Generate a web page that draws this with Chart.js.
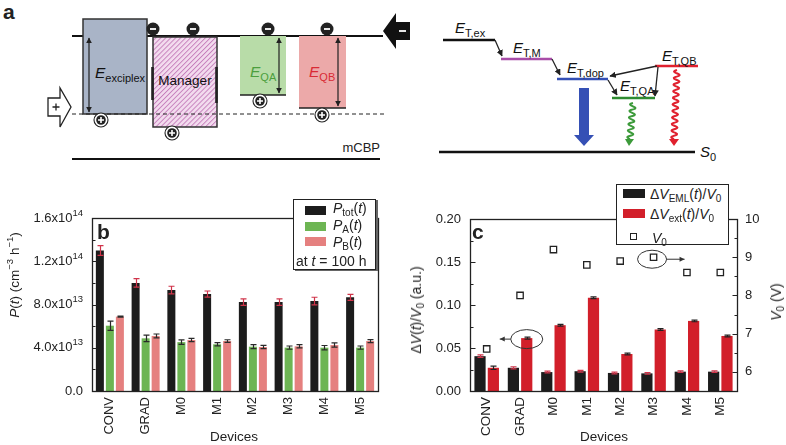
<!DOCTYPE html>
<html><head><meta charset="utf-8">
<script src="https://cdn.jsdelivr.net/npm/chart.js@4.4.0/dist/chart.umd.min.js"></script>
<style>
body{margin:0;width:786px;height:445px;overflow:hidden;background:#fff;position:relative;font-family:"Liberation Sans",Arial,sans-serif;color:#222}
.abs{position:absolute}
.t{position:absolute;white-space:nowrap;color:#222;font-size:14px;line-height:1}
.sb{font-size:10px;position:relative;top:3px}
.sp{font-size:9.5px;position:relative;top:-6px}
.rot{transform:translate(-50%,-50%) rotate(-90deg)}
</style></head><body>

<svg class="abs" style="left:0;top:0" width="786" height="180" font-family="Liberation Sans, Arial, sans-serif">
<defs>
 <pattern id="hatch" patternUnits="userSpaceOnUse" width="3.5" height="3.5" patternTransform="rotate(45)">
  <rect width="3.5" height="3.5" fill="#f3dcef"/>
  <line x1="0.5" y1="0" x2="0.5" y2="3.5" stroke="#c47bb9" stroke-width="0.9"/>
 </pattern>
 <marker id="ah" viewBox="0 0 10 10" refX="9" refY="5" markerWidth="5" markerHeight="5" orient="auto-start-reverse"><path d="M0,0 L10,5 L0,10 z" fill="#222"/></marker>
</defs>
<text x="3" y="19" font-weight="bold" font-size="21" fill="#222">a</text>
<line x1="72" y1="36" x2="383" y2="36" stroke="#111" stroke-width="2.2"/>
<line x1="72" y1="159" x2="380" y2="159" stroke="#111" stroke-width="2.2"/>
<text x="380" y="152" text-anchor="end" font-size="13" fill="#222">mCBP</text>
<!-- exciplex -->
<rect x="83" y="19" width="64" height="95" fill="#a9b4c7" stroke="#333" stroke-width="1.5"/>
<line x1="89" y1="38" x2="89" y2="112" stroke="#222" stroke-width="1.2" marker-start="url(#ah)" marker-end="url(#ah)"/>
<text x="95" y="78" font-size="15.5" fill="#111"><tspan font-style="italic">E</tspan><tspan font-size="11" dy="4">exciplex</tspan></text>
<!-- manager -->
<rect x="153" y="37" width="64" height="90" fill="url(#hatch)" stroke="#333" stroke-width="1.5"/>
<line x1="152.5" y1="67" x2="152.5" y2="100" stroke="#222" stroke-width="2.6"/>
<line x1="216.5" y1="67" x2="216.5" y2="103" stroke="#222" stroke-width="2.6"/>
<text x="185" y="85" text-anchor="middle" font-size="13.5" fill="#111">Manager</text>
<!-- QA -->
<rect x="240" y="36" width="46" height="59" fill="#b8dca8"/>
<line x1="240" y1="95" x2="286" y2="95" stroke="#222" stroke-width="1.5"/>
<line x1="279" y1="38" x2="279" y2="93" stroke="#222" stroke-width="1.2" marker-start="url(#ah)" marker-end="url(#ah)"/>
<text x="250" y="77" font-size="15.5" fill="#4c9f3e"><tspan font-style="italic">E</tspan><tspan font-size="11" dy="4">QA</tspan></text>
<!-- QB -->
<rect x="299" y="36" width="47" height="72" fill="#eca9a9"/>
<line x1="299" y1="108" x2="346" y2="108" stroke="#222" stroke-width="1.5"/>
<line x1="338" y1="38" x2="338" y2="106" stroke="#222" stroke-width="1.2" marker-start="url(#ah)" marker-end="url(#ah)"/>
<text x="309" y="77" font-size="15.5" fill="#d92b35"><tspan font-style="italic">E</tspan><tspan font-size="11" dy="4">QB</tspan></text>
<line x1="72" y1="114" x2="384" y2="114" stroke="#222" stroke-width="1" stroke-dasharray="4,3"/>
<!-- charges -->
<g fill="#222">
 <circle cx="153" cy="29" r="6.5"/><circle cx="193" cy="29" r="6.5"/><circle cx="268" cy="29" r="6.5"/><circle cx="327" cy="29" r="6.5"/>
</g>
<g stroke="#fff" stroke-width="1.8">
 <line x1="150" y1="29" x2="156" y2="29"/><line x1="190" y1="29" x2="196" y2="29"/><line x1="265" y1="29" x2="271" y2="29"/><line x1="324" y1="29" x2="330" y2="29"/>
</g>
<g>
 <circle cx="101" cy="120" r="7" fill="#fff" stroke="#222" stroke-width="1.1"/><circle cx="101" cy="120" r="4.8" fill="#222"/>
 <path d="M98,120 H104 M101,117 V123" stroke="#fff" stroke-width="1.6"/>
 <circle cx="172" cy="133" r="7" fill="#fff" stroke="#222" stroke-width="1.1"/><circle cx="172" cy="133" r="4.8" fill="#222"/>
 <path d="M169,133 H175 M172,130 V136" stroke="#fff" stroke-width="1.6"/>
 <circle cx="260" cy="101" r="7" fill="#fff" stroke="#222" stroke-width="1.1"/><circle cx="260" cy="101" r="4.8" fill="#222"/>
 <path d="M257,101 H263 M260,98 V104" stroke="#fff" stroke-width="1.6"/>
 <circle cx="322" cy="115" r="7" fill="#fff" stroke="#222" stroke-width="1.1"/><circle cx="322" cy="115" r="4.8" fill="#222"/>
 <path d="M319,115 H325 M322,112 V118" stroke="#fff" stroke-width="1.6"/>
</g>
<path d="M48,98 L60,98 L60,88 L71,107 L60,127 L60,116 L48,116 Z" fill="#fff" stroke="#222" stroke-width="1.3"/>
<path d="M52.5,107 H59.5 M56,103.5 V110.5" stroke="#222" stroke-width="1.3"/>
<path d="M383,31 L396,13 L396,22 L410,22 L410,40 L396,40 L396,49 Z" fill="#111"/>
<line x1="399" y1="31" x2="406" y2="31" stroke="#fff" stroke-width="1.8"/>

<!-- energy level diagram -->
<g stroke-width="2.6">
 <line x1="443" y1="40" x2="495" y2="40" stroke="#111"/>
 <line x1="501" y1="59" x2="552" y2="59" stroke="#a84da8"/>
 <line x1="557" y1="79" x2="608" y2="79" stroke="#3550b5"/>
 <line x1="612" y1="98" x2="655" y2="98" stroke="#2e8b30"/>
 <line x1="655" y1="66" x2="698" y2="66" stroke="#e0202e"/>
 <line x1="439" y1="152" x2="695" y2="152" stroke="#111"/>
</g>
<g stroke="#222" stroke-width="1.3" fill="none">
 <line x1="495" y1="40" x2="502" y2="56" marker-end="url(#ah)"/>
 <line x1="552" y1="59" x2="560" y2="75" marker-end="url(#ah)"/>
 <line x1="608" y1="80" x2="617" y2="95" marker-end="url(#ah)"/>
 <line x1="657" y1="66" x2="610" y2="76" marker-end="url(#ah)"/>
 <line x1="658" y1="67" x2="655" y2="96" marker-end="url(#ah)"/>
</g>
<g font-size="15" fill="#111">
 <text x="455" y="33"><tspan font-style="italic">E</tspan><tspan font-size="11" dy="4">T,ex</tspan></text>
 <text x="513" y="53"><tspan font-style="italic">E</tspan><tspan font-size="11" dy="4">T,M</tspan></text>
 <text x="567" y="73"><tspan font-style="italic">E</tspan><tspan font-size="11" dy="4">T,dop</tspan></text>
 <text x="620" y="91"><tspan font-style="italic">E</tspan><tspan font-size="11" dy="4">T,QA</tspan></text>
 <text x="662" y="61"><tspan font-style="italic">E</tspan><tspan font-size="11" dy="4">T,QB</tspan></text>
 <text x="700" y="157"><tspan font-style="italic">S</tspan><tspan font-size="11" dy="4">0</tspan></text>
</g>
<path d="M579,88 L589,88 L589,135 L594,135 L584,146 L574,135 L579,135 Z" fill="#3550b5"/>
<path id="wg" fill="none" stroke="#3c9a3a" stroke-width="2"/>
<path id="wr" fill="none" stroke="#e0202e" stroke-width="2"/>
<path d="M625,139 L634,139 L629,146 Z" fill="#3c9a3a"/>
<path d="M669,139 L679,139 L674,146 Z" fill="#e0202e"/>
</svg>

<div class="abs" style="left:0;top:190px"><canvas id="cb" width="390" height="255"></canvas></div>
<div class="abs" style="left:390px;top:190px"><canvas id="cc" width="396" height="255"></canvas></div>

<!-- panel b overlays -->
<div class="t" style="left:97px;top:221px;font-size:21px;font-weight:bold">b</div>
<div class="t rot" style="left:15px;top:275px;font-size:13.5px"><i>P</i>(<i>t</i>) (cm<span class="sp">−3</span> h<span class="sp">−1</span>)</div>
<div class="t" style="left:234px;top:437px;transform:translate(-50%,-50%);font-size:13.5px">Devices</div>
<div class="abs" style="left:293px;top:199px;width:81px;height:69px;border:1.3px solid #222;background:#fff;box-shadow:2px 1px 0 #666"></div>
<div class="abs" style="left:305px;top:206px;width:21px;height:9px;background:#1c1c1c"></div>
<div class="abs" style="left:305px;top:222px;width:21px;height:9px;background:#6db553"></div>
<div class="abs" style="left:305px;top:237px;width:21px;height:9px;background:#e5807f"></div>
<div class="t" style="left:333px;top:201px"><i>P</i><span class="sb">tot</span>(<i>t</i>)</div>
<div class="t" style="left:333px;top:218px"><i>P</i><span class="sb">A</span>(<i>t</i>)</div>
<div class="t" style="left:333px;top:235px"><i>P</i><span class="sb">B</span>(<i>t</i>)</div>
<div class="t" style="left:296px;top:254px">at <i>t</i> = 100 h</div>

<!-- panel c overlays -->
<div class="t" style="left:472px;top:221px;font-size:21px;font-weight:bold">c</div>
<div class="t rot" style="left:416px;top:310px">Δ<i>V</i>(<i>t</i>)/<i>V</i><span class="sb">0</span> (a.u.)</div>
<div class="t rot" style="left:776px;top:302px"><i>V</i><span class="sb">0</span> (V)</div>
<div class="t" style="left:604px;top:437px;transform:translate(-50%,-50%);font-size:13.5px">Devices</div>
<div class="abs" style="left:616px;top:184px;width:111px;height:59px;border:1.3px solid #222;background:#fff"></div>
<div class="abs" style="left:623px;top:189px;width:22px;height:9px;background:#1c1c1c"></div>
<div class="abs" style="left:623px;top:209px;width:22px;height:9px;background:#d21f2a"></div>
<div class="abs" style="left:630px;top:233px;width:5px;height:5px;border:1.2px solid #222;background:#fff"></div>
<div class="t" style="left:650px;top:187px">Δ<i>V</i><span class="sb">EML</span>(<i>t</i>)/<i>V</i><span class="sb">0</span></div>
<div class="t" style="left:650px;top:207px">Δ<i>V</i><span class="sb">ext</span>(<i>t</i>)/<i>V</i><span class="sb">0</span></div>
<div class="t" style="left:652px;top:231px"><i>V</i><span class="sb">0</span></div>

<script>
// ---------- data ----------
const categories = ['CONV','GRAD','M0','M1','M2','M3','M4','M5'];
// panel b : P(t) at t = 100 h  (cm^-3 h^-1)
const pTot    = [1.30e14, 1.00e14, 0.934e14, 0.897e14, 0.822e14, 0.822e14, 0.832e14, 0.866e14];
const pTotErr = [0.045e14, 0.04e14, 0.035e14, 0.028e14, 0.03e14, 0.03e14, 0.035e14, 0.028e14];
const pA      = [0.604e14, 0.487e14, 0.452e14, 0.432e14, 0.410e14, 0.401e14, 0.401e14, 0.401e14];
const pAErr   = [0.043e14, 0.03e14, 0.02e14, 0.015e14, 0.018e14, 0.015e14, 0.02e14, 0.015e14];
const pB      = [0.688e14, 0.509e14, 0.472e14, 0.462e14, 0.407e14, 0.413e14, 0.425e14, 0.462e14];
const pBErr   = [0.004e14, 0.018e14, 0.015e14, 0.012e14, 0.015e14, 0.015e14, 0.02e14, 0.014e14];
const pTickVals = [0, 4e13, 8e13, 1.2e14, 1.6e14];
const pTickLabels = ['0.0', '4.0x10^13', '8.0x10^13', '1.2x10^14', '1.6x10^14'];
// panel c : voltage rise
const dvEml    = [0.0405, 0.027, 0.022, 0.023, 0.021, 0.0205, 0.0225, 0.0225];
const dvEmlErr = [0.0015, 0.0012, 0.001, 0.001, 0.001, 0.001, 0.001, 0.001];
const dvExt    = [0.027, 0.0615, 0.0765, 0.1085, 0.043, 0.0715, 0.0815, 0.064];
const dvExtErr = [0.002, 0.0012, 0.001, 0.001, 0.001, 0.001, 0.001, 0.001];
const v0       = [6.6, 8.0, 9.2, 8.8, 8.9, 9.0, 8.6, 8.6];
const dvTickVals = [0, 0.05, 0.10, 0.15, 0.20];
const dvTickLabels = ['0.00', '0.05', '0.10', '0.15', '0.20'];
const v0TickVals = [6, 7, 8, 9, 10];
const v0TickLabels = ['6', '7', '8', '9', '10'];

// ---------- decorative wavy arrows (panel a) ----------
function wavyPath(x1,y1,x2,y2,amp,waves){
  const n=120, dx=x2-x1, dy=y2-y1, L=Math.hypot(dx,dy), px=-dy/L, py=dx/L; let d='';
  for(let i=0;i<=n;i++){const t=i/n, o=amp*Math.sin(t*waves*2*Math.PI);
    d+=(i?'L':'M')+(x1+dx*t+px*o).toFixed(2)+','+(y1+dy*t+py*o).toFixed(2);}
  return d;
}
document.getElementById('wg').setAttribute('d', wavyPath(633,103,630,139,2.8,5.5));
document.getElementById('wr').setAttribute('d', wavyPath(677,70,674,139,2.8,10.5));

// ---------- plugins ----------
const FONT = '"Liberation Sans", Arial, sans-serif';
const errorBarPlugin = {
  id:'errbars',
  afterDatasetsDraw(chart){
    const ctx = chart.ctx;
    chart.data.datasets.forEach((ds, di) => {
      if (!ds.errors) return;
      const meta = chart.getDatasetMeta(di), ys = chart.scales[meta.yAxisID];
      ctx.save(); ctx.strokeStyle = ds.errorColor; ctx.lineWidth = 1.2;
      ctx.beginPath();
      meta.data.forEach((el, i) => {
        const e = ds.errors[i]; if (!e) return;
        const v = ds.data[i], x = Math.round(el.x)+0.5;
        const y1 = ys.getPixelForValue(v+e), y2 = ys.getPixelForValue(v-e), cw = ds.capWidth || 3;
        ctx.moveTo(x,y1); ctx.lineTo(x,y2);
        ctx.moveTo(x-cw,y1); ctx.lineTo(x+cw,y1); ctx.moveTo(x-cw,y2); ctx.lineTo(x+cw,y2);
      });
      ctx.stroke(); ctx.restore();
    });
  }
};
const framePlugin = {
  id:'frame',
  afterDatasetsDraw(chart){
    const a = chart.chartArea, ctx = chart.ctx;
    ctx.save(); ctx.strokeStyle='#222'; ctx.lineWidth=1.3;
    ctx.strokeRect(Math.round(a.left)+0.5, Math.round(a.top)+0.5, Math.round(a.width), Math.round(a.height));
    ctx.restore();
  }
};
const inTickPlugin = {
  id:'inticks',
  afterDatasetsDraw(chart, args, opts){
    const ctx = chart.ctx, a = chart.chartArea;
    ctx.save(); ctx.strokeStyle='#222'; ctx.lineWidth=1; ctx.beginPath();
    (opts.axes||[]).forEach(ax => {
      const s = chart.scales[ax.id];
      const vals = s.ticks.map(t => t.value), step = vals[1]-vals[0];
      const minors = [];
      for (let k=-1; k<vals.length; k++){ const v = vals[0] + (k+0.5)*step; if (v >= s.min - 1e-9*step && v <= s.max + 1e-9*step) minors.push(v); }
      const x0 = ax.side==='left' ? Math.round(a.left)+0.5 : Math.round(a.right)+0.5, dir = ax.side==='left' ? 1 : -1;
      const draw = (v,len) => { const y = Math.round(s.getPixelForValue(v))+0.5; ctx.moveTo(x0,y); ctx.lineTo(x0+dir*len,y); };
      vals.forEach(v => draw(v,5)); minors.forEach(v => draw(v,3));
    });
    ctx.stroke(); ctx.restore();
  }
};
// tick labels with real superscript exponents (e.g. 1.6x10^14)
const supTickPlugin = {
  id:'suptick',
  afterDraw(chart, args, opts){
    if (!opts.axis) return;
    const s = chart.scales[opts.axis], ctx = chart.ctx, xr = chart.chartArea.left - opts.gap;
    ctx.save(); ctx.fillStyle = '#222'; ctx.textBaseline = 'middle'; ctx.textAlign = 'right';
    opts.values.forEach((v, i) => {
      const y = s.getPixelForValue(v);
      const [base, exp] = opts.labels[i].split('^');
      let x = xr;
      if (exp) {
        ctx.font = opts.expSize + 'px ' + FONT;
        ctx.fillText(exp, x, y - 5);
        x -= ctx.measureText(exp).width;
      }
      ctx.font = opts.size + 'px ' + FONT;
      ctx.fillText(base, x, y);
    });
    ctx.restore();
  }
};
const calloutPlugin = {
  id:'callouts',
  afterDatasetsDraw(chart, args, opts){
    const ctx = chart.ctx;
    (opts.items||[]).forEach(it => {
      const el = chart.getDatasetMeta(it.dataset).data[it.index];
      const cx = el.x + (it.dx||0), cy = el.y + (it.dy||0);
      ctx.save(); ctx.strokeStyle='#333'; ctx.fillStyle='#333'; ctx.lineWidth=1;
      ctx.beginPath(); ctx.ellipse(cx, cy, it.rx, it.ry, 0, 0, Math.PI*2); ctx.stroke();
      const x0 = cx + it.dir*it.rx, x1 = x0 + it.dir*it.len;
      ctx.beginPath(); ctx.moveTo(x0,cy); ctx.lineTo(x1,cy); ctx.stroke();
      ctx.beginPath(); ctx.moveTo(x1,cy); ctx.lineTo(x1-it.dir*5,cy-2.5); ctx.lineTo(x1-it.dir*5,cy+2.5); ctx.closePath(); ctx.fill();
      ctx.restore();
    });
  }
};

Chart.defaults.font.family = FONT;
Chart.defaults.color = '#222';

const axisBase = { grid:{display:false, drawTicks:false, tickLength:0}, border:{display:false} };

// ---------- panel b ----------
new Chart(document.getElementById('cb'), {
  type:'bar',
  data:{ labels: categories, datasets:[
    {label:'Ptot(t)', data:pTot, backgroundColor:'#1c1c1c', errors:pTotErr, errorColor:'#d0344a'},
    {label:'PA(t)',   data:pA,   backgroundColor:'#6db553', errors:pAErr,   errorColor:'#2a2a2a'},
    {label:'PB(t)',   data:pB,   backgroundColor:'#e5807f', errors:pBErr,   errorColor:'#2a2a2a'}
  ]},
  options:{
    responsive:false, animation:false, devicePixelRatio:1,
    datasets:{bar:{categoryPercentage:0.84, barPercentage:0.8}},
    layout:{padding:{left:0, top:28, right:12, bottom:0}},
    plugins:{legend:{display:false}, tooltip:{enabled:false},
      inticks:{axes:[{id:'y', side:'left'}]},
      suptick:{axis:'y', values:pTickVals, labels:pTickLabels, gap:9, size:13, expSize:9.5}},
    scales:{
      x:{...axisBase, ticks:{minRotation:90, maxRotation:90, padding:6, font:{size:13}}, afterFit:s=>{s.height=54;}},
      y:{...axisBase, min:0, max:1.6e14,
         afterBuildTicks:s=>{s.ticks = pTickVals.map(v=>({value:v}));},
         ticks:{display:false},
         afterFit:s=>{s.width=92;}}
    }
  },
  plugins:[errorBarPlugin, framePlugin, inTickPlugin, supTickPlugin]
});

// ---------- panel c ----------
new Chart(document.getElementById('cc'), {
  type:'bar',
  data:{ labels: categories, datasets:[
    {label:'ΔV_EML(t)/V0', data:dvEml, backgroundColor:'#1c1c1c', errors:dvEmlErr, errorColor:'#d0344a', yAxisID:'y'},
    {label:'ΔV_ext(t)/V0', data:dvExt, backgroundColor:'#d21f2a', errors:dvExtErr, errorColor:'#222', yAxisID:'y'},
    {type:'line', label:'V0', data:v0, yAxisID:'y1', showLine:false, pointStyle:'rect', pointRadius:4.5,
     pointBackgroundColor:'#fff', pointBorderColor:'#222', pointBorderWidth:1.3}
  ]},
  options:{
    responsive:false, animation:false, devicePixelRatio:1,
    datasets:{bar:{categoryPercentage:0.8, barPercentage:0.84}},
    layout:{padding:{left:0, top:29, right:0, bottom:0}},
    plugins:{legend:{display:false}, tooltip:{enabled:false},
      inticks:{axes:[{id:'y', side:'left'}, {id:'y1', side:'right'}]},
      callouts:{items:[
        {dataset:1, index:1, rx:16, ry:9.5, dx:0, dy:1, dir:-1, len:11},
        {dataset:2, index:5, rx:14.5, ry:9, dx:-1.5, dy:2, dir:1, len:18}
      ]}},
    scales:{
      x:{...axisBase, ticks:{minRotation:90, maxRotation:90, padding:6, font:{size:13.5}}, afterFit:s=>{s.height=54;}},
      y:{...axisBase, position:'left', min:0, max:0.2,
         afterBuildTicks:s=>{s.ticks = dvTickVals.map(v=>({value:v}));},
         ticks:{callback:(v,i)=>dvTickLabels[i], padding:9, font:{size:13}},
         afterFit:s=>{s.width=80;}},
      y1:{...axisBase, position:'right', min:5.5, max:10,
         afterBuildTicks:s=>{s.ticks = v0TickVals.map(v=>({value:v}));},
         ticks:{callback:(v,i)=>v0TickLabels[i], padding:8, font:{size:13}},
         afterFit:s=>{s.width=49;}}
    }
  },
  plugins:[errorBarPlugin, framePlugin, inTickPlugin, calloutPlugin]
});
</script>
</body></html>
